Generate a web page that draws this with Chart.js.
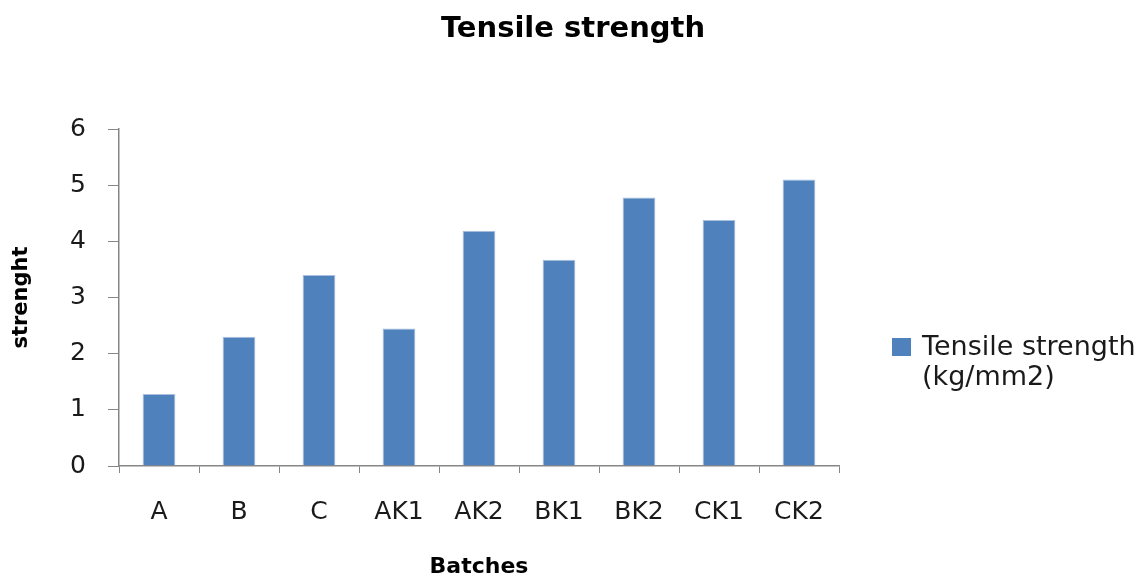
<!DOCTYPE html>
<html>
<head>
<meta charset="utf-8">
<script src="https://cdn.jsdelivr.net/npm/chart.js@4"></script>
<style>
  html, body { margin: 0; padding: 0; background: #ffffff; }
  #wrap { width: 1145px; height: 580px; position: relative; }
</style>
</head>
<body>
<div id="wrap"><canvas id="c" width="1145" height="580"></canvas></div>
<script>
const chartTitle = 'Tensile strength';
const categories = ['A', 'B', 'C', 'AK1', 'AK2', 'BK1', 'BK2', 'CK1', 'CK2'];
const tensileValues = [1.28, 2.30, 3.40, 2.45, 4.19, 3.67, 4.78, 4.38, 5.10];
const seriesLabel = ['Tensile strength', '(kg/mm2)'];
const xAxisTitle = 'Batches';
const yAxisTitle = 'strenght';
const yTicks = [0, 1, 2, 3, 4, 5, 6];

const FONT = '"DejaVu Sans", "Open Sans", sans-serif';
const BAR_COLOR = '#4F81BD';
const AXIS_COLOR = '#868686';
const TEXT_COLOR = '#1a1a1a';

const overlay = {
  id: 'overlay',
  afterDraw(chart) {
    const ctx = chart.ctx;
    ctx.save();
    // Title
    ctx.fillStyle = '#000000';
    ctx.font = 'bold 29px ' + FONT;
    ctx.textAlign = 'center';
    ctx.textBaseline = 'alphabetic';
    ctx.fillText(chartTitle, 573, 37);
    // Legend
    ctx.fillStyle = BAR_COLOR;
    ctx.fillRect(892, 338, 19, 18);
    ctx.fillStyle = TEXT_COLOR;
    ctx.font = '27px ' + FONT;
    ctx.textAlign = 'left';
    ctx.fillText(seriesLabel[0], 922, 355);
    ctx.fillText(seriesLabel[1], 922, 385);
    ctx.restore();
  }
};

new Chart(document.getElementById('c'), {
  type: 'bar',
  data: {
    labels: categories,
    datasets: [{
      label: seriesLabel.join(' '),
      data: tensileValues,
      backgroundColor: BAR_COLOR,
      borderColor: '#A9C0DE',
      borderWidth: 1,
      categoryPercentage: 1.0,
      barPercentage: 0.41
    }]
  },
  options: {
    responsive: false,
    animation: false,
    devicePixelRatio: 1,
    layout: { padding: { top: 129, right: 306, bottom: 0, left: 0 } },
    plugins: {
      legend: { display: false },
      title: { display: false },
      tooltip: { enabled: false }
    },
    scales: {
      x: {
        afterFit(scale) { scale.height = 114; },
        grid: { display: true, drawOnChartArea: false, drawTicks: true, tickLength: 7, color: AXIS_COLOR, offset: true },
        border: { display: true, color: AXIS_COLOR, width: 1.5 },
        ticks: { color: TEXT_COLOR, font: { family: FONT, size: 25 }, padding: 24, maxRotation: 0, autoSkip: false },
        title: { display: true, text: xAxisTitle, color: '#000000', font: { family: FONT, size: 22, weight: 'bold' }, padding: { top: 0, bottom: 0 } }
      },
      y: {
        min: 0, max: 6,
        afterFit(scale) { scale.width = 119; },
        afterBuildTicks(scale) { scale.ticks = yTicks.map(v => ({ value: v })); },
        grid: { display: true, drawOnChartArea: false, drawTicks: true, tickLength: 11, color: AXIS_COLOR },
        border: { display: true, color: AXIS_COLOR, width: 1.5 },
        ticks: { color: TEXT_COLOR, font: { family: FONT, size: 25 }, padding: 22 },
        title: { display: true, text: yAxisTitle, color: '#000000', font: { family: FONT, size: 21, weight: 'bold' }, padding: { top: 9, bottom: 0 } }
      }
    }
  },
  plugins: [overlay]
});
</script>
</body>
</html>
